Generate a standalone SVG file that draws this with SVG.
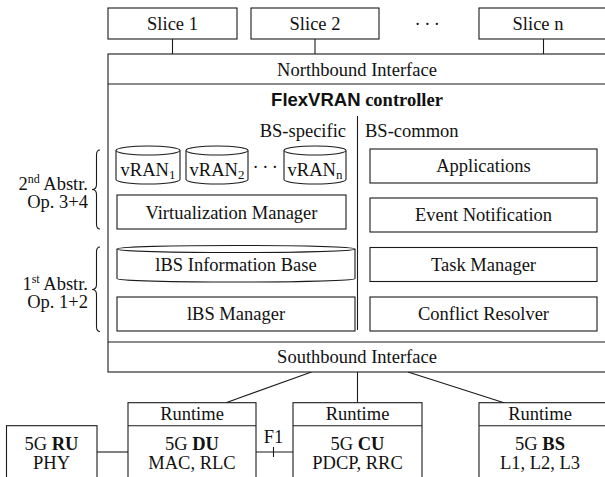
<svg xmlns="http://www.w3.org/2000/svg" width="605" height="477" viewBox="0 0 605 477">
<style>
text{font-family:"Liberation Serif","Times New Roman",serif;font-size:18.5px;fill:#111;text-anchor:middle}
.box{fill:#fff;stroke:#1a1a1a;stroke-width:1.1}
.ln{fill:none;stroke:#1a1a1a;stroke-width:1.1}
.sub{font-size:13px}
.e{text-anchor:end}
.s{text-anchor:start}
.b{font-weight:bold}
</style>
<rect width="605" height="477" fill="#fff"/>
<g id="connectors">
<line class="ln" x1="172.5" y1="39" x2="172.5" y2="54"/>
<line class="ln" x1="315" y1="39" x2="315" y2="54"/>
<line class="ln" x1="543.5" y1="39" x2="543.5" y2="54"/>
<line class="ln" x1="311.5" y1="372" x2="226" y2="402.7"/>
<line class="ln" x1="357.5" y1="372" x2="357.5" y2="402.7"/>
<line class="ln" x1="408" y1="372" x2="504" y2="402.7"/>
<line class="ln" x1="97" y1="452" x2="128" y2="452"/>
<line class="ln" x1="256" y1="452" x2="293" y2="452"/>
<line class="ln" x1="273.5" y1="447" x2="273.5" y2="457"/>
<text x="273.5" y="443">F1</text>
</g>
<g id="slice1"><rect class="box" x="108" y="8" width="129" height="31"/><text x="172.5" y="30">Slice 1</text></g>
<g id="slice2"><rect class="box" x="251" y="8" width="128" height="31"/><text x="315" y="30">Slice 2</text></g>
<text x="429" y="30" letter-spacing="3.5">···</text>
<g id="slicen"><rect class="box" x="479" y="8" width="130" height="31"/><text x="538" y="30">Slice n</text></g>
<g id="controller">
<rect class="box" x="108" y="54" width="500" height="318"/>
<line class="ln" x1="108" y1="84" x2="608" y2="84"/>
<line class="ln" x1="108" y1="342" x2="608" y2="342"/>
<line class="ln" x1="357.5" y1="116" x2="357.5" y2="330" stroke-width="1.3"/>
<text x="357" y="76">Northbound Interface</text>
<text x="357" y="106" class="b"><tspan font-family="'Liberation Sans',Arial,sans-serif">FlexVRAN</tspan> controller</text>
<text x="346" y="137" class="e">BS-specific</text>
<text x="365" y="137" class="s">BS-common</text>
<text x="357" y="363">Southbound Interface</text>
</g>
<g id="vran1"><path class="box" d="M116,150.5 L116,179.5 A32,4.5 0 0 0 180,179.5 L180,150.5"/><ellipse class="box" cx="148" cy="150.5" rx="32" ry="4.5"/><text x="148" y="176">vRAN<tspan class="sub" dy="3">1</tspan></text></g>
<g id="vran2"><path class="box" d="M186,150.5 L186,179.5 A31,4.5 0 0 0 248,179.5 L248,150.5"/><ellipse class="box" cx="217" cy="150.5" rx="31" ry="4.5"/><text x="217" y="176">vRAN<tspan class="sub" dy="3">2</tspan></text></g>
<text x="267" y="173" letter-spacing="3.5">···</text>
<g id="vrann"><path class="box" d="M284,150.5 L284,179.5 A31,4.5 0 0 0 346,179.5 L346,150.5"/><ellipse class="box" cx="315" cy="150.5" rx="31" ry="4.5"/><text x="315" y="176">vRAN<tspan class="sub" dy="3">n</tspan></text></g>
<g id="virt"><rect class="box" x="117" y="195" width="229" height="34"/><text x="231.5" y="218.5">Virtualization Manager</text></g>
<g id="lbsinfo"><path class="box" d="M117,249 L117,278.5 A119,3.5 0 0 0 355,278.5 L355,249"/><ellipse class="box" cx="236" cy="249" rx="119" ry="3.5"/><text x="236" y="271">lBS Information Base</text></g>
<g id="lbsmgr"><rect class="box" x="117" y="297" width="238" height="34"/><text x="236" y="320">lBS Manager</text></g>
<g id="apps"><rect class="box" x="370" y="149" width="227" height="34"/><text x="483.5" y="172">Applications</text></g>
<g id="event"><rect class="box" x="370" y="198" width="227" height="34"/><text x="483.5" y="221">Event Notification</text></g>
<g id="task"><rect class="box" x="370" y="247.5" width="227" height="34"/><text x="483.5" y="270.5">Task Manager</text></g>
<g id="conflict"><rect class="box" x="370" y="297" width="227" height="34"/><text x="483.5" y="320">Conflict Resolver</text></g>
<g id="abstr2">
<path class="ln" d="M100,150 Q96.5,150 96.5,155 L96.5,184.5 Q96.5,189.5 92,189.5 Q96.5,189.5 96.5,194.5 L96.5,224 Q96.5,229 100,229"/>
<text x="88" y="190" class="e">2<tspan font-size="12" dy="-7">nd</tspan><tspan dy="7"> Abstr.</tspan></text>
<text x="88" y="208" class="e">Op. 3+4</text>
</g>
<g id="abstr1">
<path class="ln" d="M100,247 Q96.5,247 96.5,252 L96.5,284.5 Q96.5,289.5 92,289.5 Q96.5,289.5 96.5,294.5 L96.5,326.5 Q96.5,331.5 100,331.5"/>
<text x="88" y="290" class="e">1<tspan font-size="12" dy="-7">st</tspan><tspan dy="7"> Abstr.</tspan></text>
<text x="88" y="308" class="e">Op. 1+2</text>
</g>
<g id="ru"><rect class="box" x="6.5" y="425.7" width="90.5" height="70"/><text x="51.5" y="450">5G <tspan class="b">RU</tspan></text><text x="51.5" y="469">PHY</text></g>
<g id="du"><rect class="box" x="128" y="402.7" width="128" height="90"/><line class="ln" x1="128" y1="425.7" x2="256" y2="425.7"/><text x="192" y="420">Runtime</text><text x="192" y="450">5G <tspan class="b">DU</tspan></text><text x="192" y="469">MAC, RLC</text></g>
<g id="cu"><rect class="box" x="293" y="402.7" width="129" height="90"/><line class="ln" x1="293" y1="425.7" x2="422" y2="425.7"/><text x="357.5" y="420">Runtime</text><text x="357.5" y="450">5G <tspan class="b">CU</tspan></text><text x="357.5" y="469">PDCP, RRC</text></g>
<g id="bs"><rect class="box" x="479" y="402.7" width="130" height="90"/><line class="ln" x1="479" y1="425.7" x2="609" y2="425.7"/><text x="540" y="420">Runtime</text><text x="540" y="450">5G <tspan class="b">BS</tspan></text><text x="540" y="469">L1, L2, L3</text></g>
</svg>
